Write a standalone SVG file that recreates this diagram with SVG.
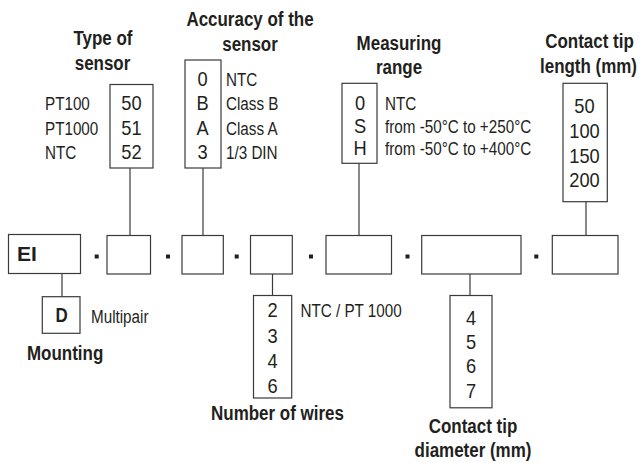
<svg xmlns="http://www.w3.org/2000/svg" width="641" height="463" viewBox="0 0 641 463">
<style>
  text { font-family: "Liberation Sans", Arial, Helvetica, sans-serif; fill: #231f20; }
  .b { font-weight: bold; font-size: 19.5px; }
  .r { font-size: 17.5px; }
  .d { font-size: 21px; }
  .m { text-anchor: middle; }
  .box { fill: #ffffff; stroke: #3a3a3a; stroke-width: 1.2; }
  .ln { stroke: #3a3a3a; stroke-width: 1.2; fill: none; }
  .dot { fill: #231f20; }
</style>
<rect width="641" height="463" fill="#ffffff"/>

<g id="connectors">
  <line class="ln" x1="130" y1="168" x2="130" y2="235.5"/>
  <line class="ln" x1="203" y1="168" x2="203" y2="235.5"/>
  <line class="ln" x1="359" y1="163.3" x2="359" y2="235.5"/>
  <line class="ln" x1="586" y1="201.7" x2="586" y2="235.5"/>
  <line class="ln" x1="62" y1="273.5" x2="62" y2="296.7"/>
  <line class="ln" x1="272.5" y1="274" x2="272.5" y2="295.5"/>
  <line class="ln" x1="470" y1="274" x2="470" y2="295.5"/>
</g>

<g id="type-of-sensor">
  <text class="b m" transform="translate(103 45) scale(0.87 1)">Type of</text>
  <text class="b m" transform="translate(102.5 70) scale(0.87 1)">sensor</text>
  <rect class="box" x="110" y="84.5" width="43" height="83.5"/>
  <text class="d m" transform="translate(131.5 110) scale(0.87 1)">50</text>
  <text class="d m" transform="translate(131.5 135) scale(0.87 1)">51</text>
  <text class="d m" transform="translate(131.5 158.5) scale(0.87 1)">52</text>
  <text class="r" transform="translate(45 110) scale(0.87 1)">PT100</text>
  <text class="r" transform="translate(45 135) scale(0.87 1)">PT1000</text>
  <text class="r" transform="translate(45 158.5) scale(0.87 1)">NTC</text>
</g>

<g id="accuracy-of-the-sensor">
  <text class="b m" transform="translate(250 26) scale(0.87 1)">Accuracy of the</text>
  <text class="b m" transform="translate(250 51) scale(0.87 1)">sensor</text>
  <rect class="box" x="185" y="60" width="36" height="108"/>
  <text class="d m" transform="translate(202.5 86) scale(0.87 1)">0</text>
  <text class="d m" transform="translate(202.5 110) scale(0.87 1)">B</text>
  <text class="d m" transform="translate(202.5 135) scale(0.87 1)">A</text>
  <text class="d m" transform="translate(202.5 159) scale(0.87 1)">3</text>
  <text class="r" transform="translate(226 85.5) scale(0.87 1)">NTC</text>
  <text class="r" transform="translate(226 110) scale(0.87 1)">Class B</text>
  <text class="r" transform="translate(226 135) scale(0.87 1)">Class A</text>
  <text class="r" transform="translate(226 159) scale(0.87 1)">1/3 DIN</text>
</g>

<g id="measuring-range">
  <text class="b m" transform="translate(399 50) scale(0.87 1)">Measuring</text>
  <text class="b m" transform="translate(399 73.5) scale(0.87 1)">range</text>
  <rect class="box" x="342" y="83.3" width="35" height="80"/>
  <text class="d m" transform="translate(360 110) scale(0.87 1)">0</text>
  <text class="d m" transform="translate(360 132.5) scale(0.87 1)">S</text>
  <text class="d m" transform="translate(360 155) scale(0.87 1)">H</text>
  <text class="r" transform="translate(385 110) scale(0.87 1)">NTC</text>
  <text class="r" transform="translate(385 132.5) scale(0.87 1)">from -50°C to +250°C</text>
  <text class="r" transform="translate(385 154.5) scale(0.87 1)">from -50°C to +400°C</text>
</g>

<g id="contact-tip-length">
  <text class="b m" transform="translate(589.5 48) scale(0.87 1)">Contact tip</text>
  <text class="b m" transform="translate(588.5 73) scale(0.87 1)">length (mm)</text>
  <rect class="box" x="563" y="83.3" width="44.3" height="118.4"/>
  <text class="d m" transform="translate(584.5 113) scale(0.87 1)">50</text>
  <text class="d m" transform="translate(584.5 138) scale(0.87 1)">100</text>
  <text class="d m" transform="translate(584.5 162.5) scale(0.87 1)">150</text>
  <text class="d m" transform="translate(584.5 187) scale(0.87 1)">200</text>
</g>

<g id="seg-ei">
  <rect class="box" x="8.5" y="234.5" width="72" height="39"/>
  <text class="b" style="font-size:21px" transform="translate(17 261)">EI</text>
</g>
<g id="seg-type"><rect class="box" x="107" y="235.5" width="43.5" height="38.5"/></g>
<g id="seg-accuracy"><rect class="box" x="182" y="235.5" width="41.3" height="38.5"/></g>
<g id="seg-wires"><rect class="box" x="250.5" y="235.5" width="41.8" height="38.5"/></g>
<g id="seg-range"><rect class="box" x="326" y="235.5" width="65.5" height="38.5"/></g>
<g id="seg-diameter"><rect class="box" x="421.7" y="235.5" width="99.3" height="38.5"/></g>
<g id="seg-length"><rect class="box" x="552.3" y="235.5" width="65.7" height="38.5"/></g>

<g id="separators">
  <rect class="dot" x="94.7" y="254.5" width="4" height="4"/>
  <rect class="dot" x="166" y="254.5" width="4" height="4"/>
  <rect class="dot" x="234.7" y="254.5" width="4" height="4"/>
  <rect class="dot" x="309" y="254.5" width="4" height="4"/>
  <rect class="dot" x="405.5" y="254.5" width="4" height="4"/>
  <rect class="dot" x="534.3" y="254.5" width="4" height="4"/>
</g>

<g id="mounting">
  <rect class="box" x="42.3" y="296.7" width="37.7" height="36.6"/>
  <text class="b m" transform="translate(61.5 322) scale(0.87 1)">D</text>
  <text class="r" transform="translate(91 323) scale(0.87 1)">Multipair</text>
  <text class="b" transform="translate(27 360) scale(0.87 1)">Mounting</text>
</g>

<g id="number-of-wires">
  <rect class="box" x="253.5" y="295.5" width="38.2" height="102.5"/>
  <text class="d m" transform="translate(272.5 316.5) scale(0.87 1)">2</text>
  <text class="d m" transform="translate(272.5 342.5) scale(0.87 1)">3</text>
  <text class="d m" transform="translate(272.5 368) scale(0.87 1)">4</text>
  <text class="d m" transform="translate(272.5 393) scale(0.87 1)">6</text>
  <text class="r" transform="translate(300.5 317) scale(0.87 1)">NTC / PT 1000</text>
  <text class="b m" transform="translate(277.5 420) scale(0.87 1)">Number of wires</text>
</g>

<g id="contact-tip-diameter">
  <rect class="box" x="450" y="295.5" width="42" height="112.3"/>
  <text class="d m" transform="translate(471 324.5) scale(0.87 1)">4</text>
  <text class="d m" transform="translate(471 349) scale(0.87 1)">5</text>
  <text class="d m" transform="translate(471 373) scale(0.87 1)">6</text>
  <text class="d m" transform="translate(471 397.5) scale(0.87 1)">7</text>
  <text class="b m" transform="translate(473 433) scale(0.87 1)">Contact tip</text>
  <text class="b m" transform="translate(473 457) scale(0.87 1)">diameter (mm)</text>
</g>
</svg>
